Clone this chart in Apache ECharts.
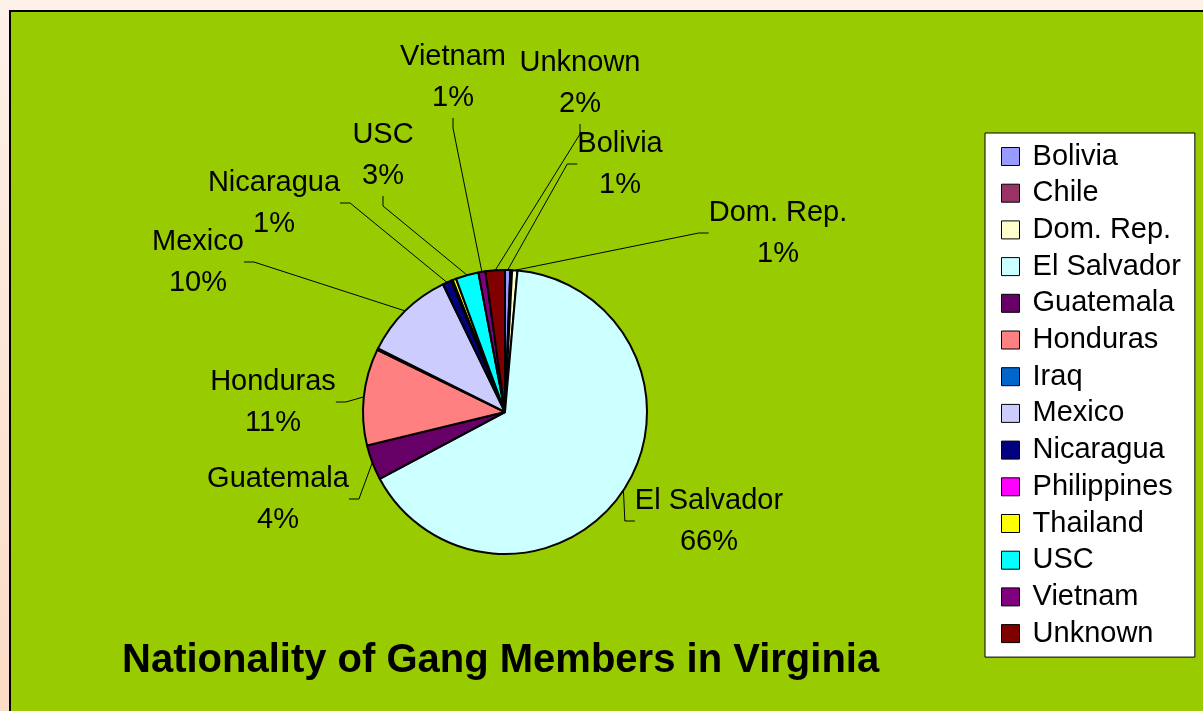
<!DOCTYPE html>
<html>
<head>
<meta charset="utf-8">
<script src="https://cdn.jsdelivr.net/npm/echarts@6/dist/echarts.min.js"></script>
<style>
  html, body { margin: 0; padding: 0; }
  #gangChart { width: 1203px; height: 711px; }
</style>
</head>
<body>
<div id="gangChart"></div>
<script>
// nationality counts (total ~500)
var countries = ['Bolivia', 'Chile', 'Dom. Rep.', 'El Salvador', 'Guatemala', 'Honduras', 'Iraq',
                 'Mexico', 'Nicaragua', 'Philippines', 'Thailand', 'USC', 'Vietnam', 'Unknown'];
var members = [3, 1, 3, 329, 20, 55, 1, 52, 5, 1, 2, 13, 4, 11];
var sliceColors = ['#9999FF', '#993366', '#FFFFCC', '#CCFFFF', '#660066', '#FF8080', '#0066CC',
                   '#CCCCFF', '#000080', '#FF00FF', '#FFFF00', '#00FFFF', '#800080', '#800000'];
// these had no data label in the original
var unlabeled = ['Chile', 'Iraq', 'Philippines', 'Thailand'];

// where each label sits (text centre)
var labelSpots = {
    'Vietnam': [453, 77],
    'Unknown': [580, 83],
    'Bolivia': [620, 164],
    'Dom. Rep.': [778, 233],
    'El Salvador': [709, 521],
    'Guatemala': [278, 499],
    'Honduras': [273, 402],
    'Mexico': [198, 262],
    'Nicaragua': [274, 203],
    'USC': [383, 155]
};

var gangChart = echarts.init(document.getElementById('gangChart'));

var pieData = countries.map(function (name, i) {
    var item = {
        name: name,
        value: members[i],
        itemStyle: { color: sliceColors[i] }
    };
    if (unlabeled.indexOf(name) >= 0) {
        item.label = { show: false };
        item.labelLine = { show: false };
    }
    return item;
});

var option = {
    animation: false,
    backgroundColor: new echarts.graphic.LinearGradient(0, 0, 0, 1, [
        { offset: 0, color: '#fdf1e8' },
        { offset: 1, color: '#fbdcc6' }
    ]),
    graphic: [
        {
            type: 'rect',
            z: -10,
            shape: { x: 10, y: 11, width: 1210, height: 720 },
            style: { fill: '#99CC00', stroke: '#000', lineWidth: 2 }
        }
    ],
    title: {
        text: 'Nationality of Gang Members in Virginia',
        left: 122,
        top: 641,
        padding: 0,
        textStyle: {
            fontFamily: 'Liberation Sans, Arial, sans-serif',
            fontSize: 40,
            fontWeight: 'bold',
            color: '#000'
        }
    },
    legend: {
        orient: 'vertical',
        left: 985,
        top: 133,
        height: 520,
        padding: [9, 14, 9, 16],
        itemWidth: 18,
        itemHeight: 18,
        itemGap: 7.7,
        icon: 'rect',
        backgroundColor: '#fff',
        borderColor: '#000',
        borderWidth: 1,
        borderRadius: 0,
        selectedMode: false,
        data: countries,
        itemStyle: { borderColor: '#000', borderWidth: 1 },
        formatter: function (name) {
            return ' ' + name;
        },
        textStyle: {
            fontFamily: 'Liberation Sans, Arial, sans-serif',
            fontSize: 29,
            color: '#000'
        }
    },
    series: [
        {
            name: 'Nationality',
            type: 'pie',
            center: [505, 412],
            radius: 142,
            startAngle: 90,
            clockwise: true,
            avoidLabelOverlap: false,
            emphasis: { disabled: true },
            itemStyle: { borderColor: '#000', borderWidth: 2 },
            label: {
                show: true,
                position: 'outside',
                fontFamily: 'Liberation Sans, Arial, sans-serif',
                fontSize: 29,
                lineHeight: 41,
                color: '#000',
                formatter: function (p) {
                    return p.name + '\n' + Math.round(p.percent) + '%';
                }
            },
            labelLine: {
                show: true,
                length: 15,
                length2: 10,
                lineStyle: { color: '#000', width: 1 }
            },
            labelLayout: function (p) {
                var spot = labelSpots[countries[p.dataIndex]];
                if (!spot) {
                    return {};
                }
                return { x: spot[0], y: spot[1], align: 'center', verticalAlign: 'middle' };
            },
            data: pieData
        }
    ]
};

gangChart.setOption(option);
</script>
</body>
</html>
